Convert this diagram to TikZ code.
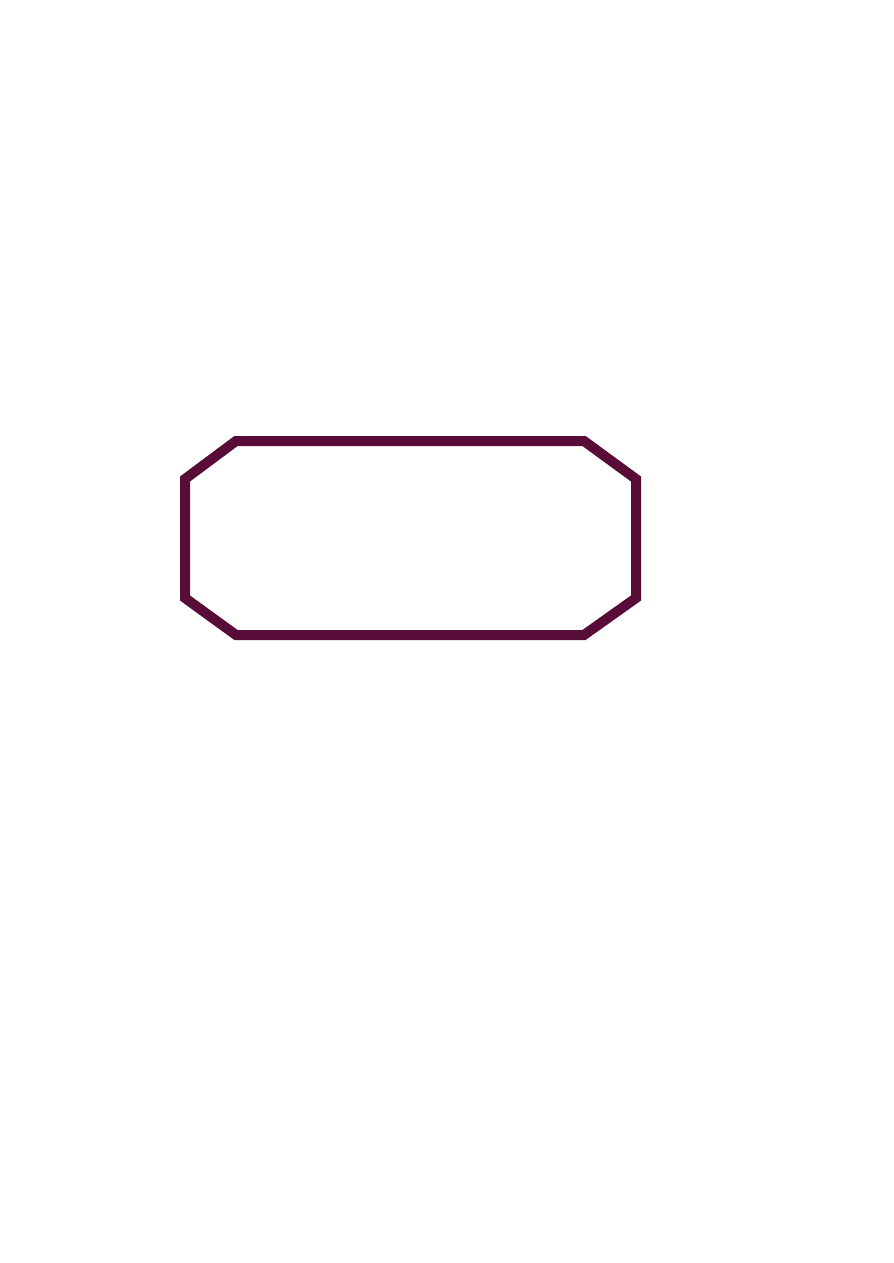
\documentclass[tikz,border=0pt]{standalone}
\definecolor{plum}{RGB}{88,12,56}
\begin{document}
\begin{tikzpicture}[x=0.75pt,y=-0.75pt,
  octo/.style={draw=plum,line width=7.5pt,line join=miter}]
\useasboundingbox (0,0) rectangle (893,1263);
\draw[octo] (236,441) -- (584,441) -- (636,479) -- (636,598) -- (584,635)
  -- (236,635) -- (185,598) -- (185,479) -- cycle;
\end{tikzpicture}
\end{document}
